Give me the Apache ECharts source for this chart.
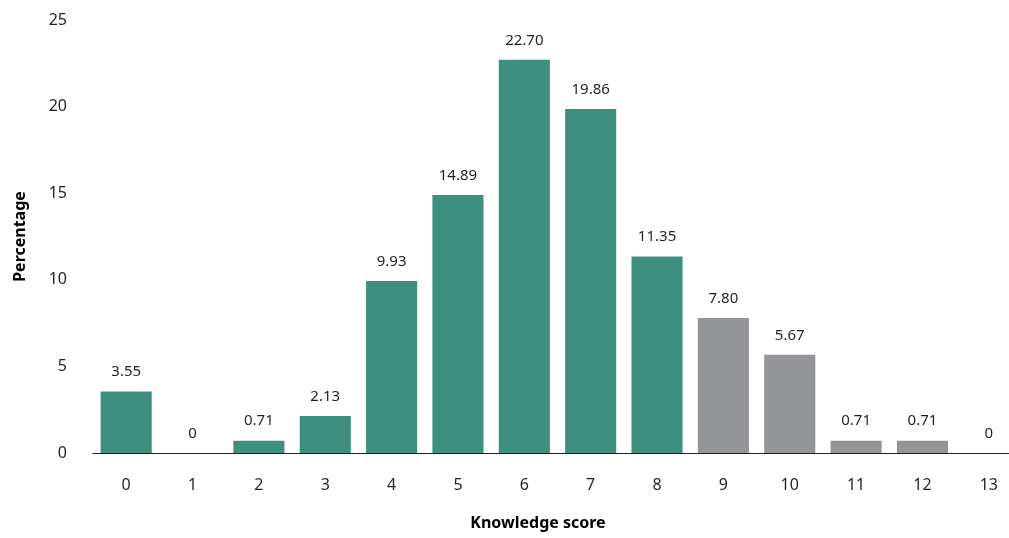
<!DOCTYPE html>
<html>
<head>
<meta charset="utf-8">
<script src="https://cdn.jsdelivr.net/npm/echarts@6/dist/echarts.min.js"></script>
<style>html,body{margin:0;padding:0;background:#fff;overflow:hidden;}#c{width:1022px;height:538px;}</style>
</head>
<body>
<div id="c"></div>
<script>
var categories = ['0','1','2','3','4','5','6','7','8','9','10','11','12','13'];
var percentages = [3.55, 0, 0.71, 2.13, 9.93, 14.89, 22.70, 19.86, 11.35, 7.80, 5.67, 0.71, 0.71, 0];
var groups = ['low','low','low','low','low','low','low','low','low','high','high','high','high','high'];
var yTicks = [0, 5, 10, 15, 20, 25];

var colorMap = { low: '#3e8f7e', high: '#939598' };
var chart = echarts.init(document.getElementById('c'), null, { renderer: 'canvas' });
var fontFam = '"Noto Sans", "Open Sans", sans-serif';
chart.setOption({
  animation: false,
  backgroundColor: '#ffffff',
  grid: { left: 93, right: 0, top: 20, bottom: 85, containLabel: false },
  xAxis: {
    type: 'category',
    data: categories,
    name: 'Knowledge score',
    nameLocation: 'middle',
    nameGap: 62,
    nameTextStyle: { fontFamily: fontFam, fontWeight: 'bold', fontSize: 16, color: '#000', padding: [0, 0, 0, -39] },
    axisLine: { show: true, lineStyle: { color: '#231f20', width: 1 } },
    axisTick: { show: false },
    axisLabel: { fontFamily: fontFam, fontSize: 16, color: '#231f20', margin: 24 }
  },
  yAxis: {
    type: 'value',
    min: yTicks[0],
    max: yTicks[yTicks.length - 1],
    interval: 5,
    name: 'Percentage',
    nameLocation: 'middle',
    nameGap: 65,
    nameRotate: 90,
    nameTextStyle: { fontFamily: fontFam, fontWeight: 'bold', fontSize: 16, color: '#000' },
    axisLine: { show: false },
    axisTick: { show: false },
    splitLine: { show: false },
    axisLabel: { fontFamily: fontFam, fontSize: 16, color: '#231f20', margin: 26 }
  },
  series: [{
    type: 'bar',
    barCategoryGap: '23%',
    data: percentages.map(function (v, i) {
      return { value: v, itemStyle: { color: colorMap[groups[i]] } };
    }),
    label: {
      show: true,
      position: 'top',
      distance: 12,
      fontFamily: fontFam,
      fontSize: 15,
      color: '#231f20',
      formatter: function (p) { return p.value === 0 ? '0' : p.value.toFixed(2); }
    }
  }]
});
</script>
</body>
</html>
